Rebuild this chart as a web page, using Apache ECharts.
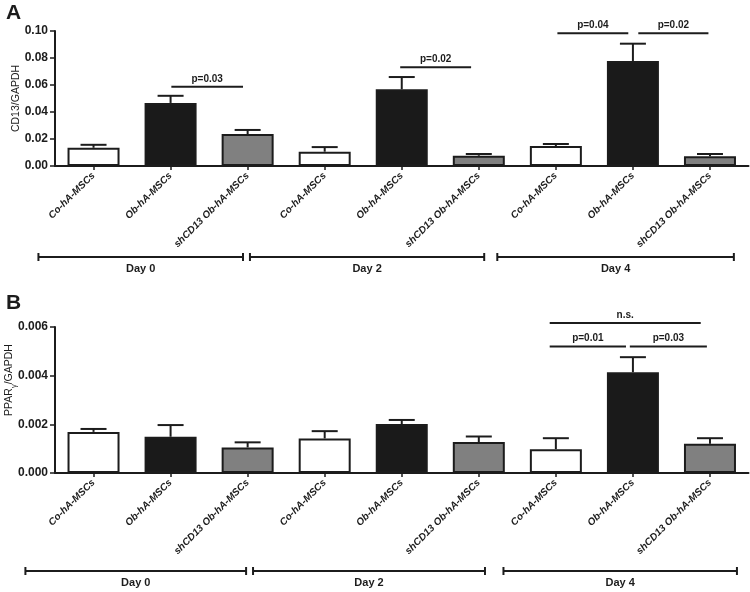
<!DOCTYPE html>
<html><head><meta charset="utf-8">
<script src="https://cdn.jsdelivr.net/npm/echarts@6/dist/echarts.min.js"></script>
<style>html,body{margin:0;padding:0;background:#fff}#c{width:750px;height:592px}</style>
</head><body><div id="c"></div>
<script>
// ---- data ----
const categories = ['Co-hA-MSCs','Ob-hA-MSCs','shCD13 Ob-hA-MSCs',
                    'Co-hA-MSCs','Ob-hA-MSCs','shCD13 Ob-hA-MSCs',
                    'Co-hA-MSCs','Ob-hA-MSCs','shCD13 Ob-hA-MSCs'];
const dayLabels = ['Day 0','Day 2','Day 4'];
// Panel A: CD13/GAPDH
const cd13Values = [0.0135,0.0467,0.0237,0.0106,0.0568,0.0076,0.0148,0.0778,0.0072];
const cd13ErrTop = [0.0157,0.0520,0.0267,0.0140,0.0659,0.0089,0.0163,0.0906,0.0089];
const cd13Sig = [[1.01,1.94,0.0587],[3.98,4.90,0.0731],[6.02,6.94,0.0983],[7.07,7.98,0.0983]];
const cd13SigText = ['p=0.03','p=0.02','p=0.04','p=0.02'];
const cd13DaySpans = [[-0.715,1.94],[2.03,5.07],[5.24,8.31]];
// Panel B: PPARγ/GAPDH
const pparValues = [0.00169,0.00149,0.00105,0.00142,0.00201,0.00127,0.00098,0.00414,0.00120];
const pparErrTop = [0.00181,0.00197,0.00126,0.00172,0.00218,0.00150,0.00143,0.00476,0.00143];
const pparSig = [[5.92,6.91,0.0052],[6.96,7.96,0.0052],[5.92,7.88,0.00616]];
const pparSigText = ['p=0.01','p=0.03','n.s.'];
const pparDaySpans = [[-0.884,1.98],[2.07,5.08],[5.32,8.35]];
// axis ticks
const cd13Axis = {min:0, max:0.10, interval:0.02, digits:2};
const pparAxis = {min:0, max:0.006, interval:0.002, digits:3};

// ---- styles ----
const FONT = '"Liberation Sans", Arial, sans-serif';
const INK = '#1c1c1c';
const fills = ['#ffffff','#1a1a1a','#808080'];

function barSeries(vals, gi){
  return {type:'bar', xAxisIndex:gi*2, yAxisIndex:gi, barWidth:52,
    data: vals.map((v,i)=>({value:v, itemStyle:{color:fills[i%3]}})),
    itemStyle:{borderColor:INK, borderWidth:2}, z:2};
}
function errSeries(vals, tops, gi){
  return {type:'custom', xAxisIndex:gi*2, yAxisIndex:gi, z:3, clip:false,
    data: vals.map((v,i)=>[i,v,tops[i]]),
    renderItem:(params, api)=>{
      const a = api.coord([api.value(0), api.value(1)]);
      const b = api.coord([api.value(0), api.value(2)]);
      const st = {stroke:INK, lineWidth:2};
      return {type:'group', children:[
        {type:'line', shape:{x1:a[0],y1:a[1],x2:b[0],y2:b[1]}, style:st},
        {type:'line', shape:{x1:b[0]-13,y1:b[1],x2:b[0]+13,y2:b[1]}, style:st}
      ]};
    }};
}
function sigSeries(spans, texts, gi){
  return {type:'custom', xAxisIndex:gi*2+1, yAxisIndex:gi, z:3, clip:false,
    data: spans.map((s,i)=>[s[0],s[1],s[2],i]),
    renderItem:(params, api)=>{
      const a = api.coord([api.value(0), api.value(2)]);
      const b = api.coord([api.value(1), api.value(2)]);
      return {type:'group', children:[
        {type:'line', shape:{x1:a[0],y1:a[1],x2:b[0],y2:b[1]}, style:{stroke:INK,lineWidth:2}},
        {type:'text', x:(a[0]+b[0])/2, y:a[1]-3, style:{text:texts[api.value(3)], fill:INK,
          font:'bold 10px '+FONT, textAlign:'center', textVerticalAlign:'bottom'}}
      ]};
    }};
}
function daySeries(spans, gi, drop){
  return {type:'custom', xAxisIndex:gi*2+1, yAxisIndex:gi, z:3, clip:false,
    data: spans.map((s,i)=>[s[0],s[1],i]),
    renderItem:(params, api)=>{
      const a = api.coord([api.value(0), 0]);
      const b = api.coord([api.value(1), 0]);
      const y = a[1] + drop;
      const st = {stroke:INK, lineWidth:2};
      return {type:'group', children:[
        {type:'line', shape:{x1:a[0],y1:y,x2:b[0],y2:y}, style:st},
        {type:'line', shape:{x1:a[0],y1:y-4,x2:a[0],y2:y+4}, style:st},
        {type:'line', shape:{x1:b[0],y1:y-4,x2:b[0],y2:y+4}, style:st},
        {type:'text', x:(a[0]+b[0])/2, y:y+12, style:{text:dayLabels[api.value(2)], fill:INK,
          font:'bold 11px '+FONT, textAlign:'center', textVerticalAlign:'middle'}}
      ]};
    }};
}
function catAxis(gi){
  return {type:'category', gridIndex:gi, data:categories,
    axisLine:{onZero:false, lineStyle:{color:INK,width:2}},
    axisTick:{show:true, alignWithLabel:true, length:4, lineStyle:{color:INK,width:1.5}},
    axisLabel:{interval:0, rotate:45, margin:8, color:INK, fontFamily:FONT,
      fontSize:10, fontWeight:'bold', fontStyle:'italic'}};
}
function hiddenAxis(gi){
  return {type:'value', gridIndex:gi, min:-0.5, max:8.5, show:false};
}
function valAxis(gi, ax, name, gap, pad){
  return {type:'value', gridIndex:gi, min:ax.min, max:ax.max, interval:ax.interval,
    name:name, nameLocation:'middle', nameGap:gap, nameMoveOverlap:false,
    nameTextStyle:{fontFamily:FONT, fontSize:10.5, color:INK, padding:pad,
      rich:{sub:{fontSize:7.5, fontFamily:FONT, color:INK, verticalAlign:'bottom', padding:[0,0,-3,0]}}},
    splitLine:{show:false},
    axisLine:{show:true, onZero:false, lineStyle:{color:INK,width:2}},
    axisTick:{show:true, length:5, lineStyle:{color:INK,width:1.5}},
    axisLabel:{margin:7, color:INK, fontFamily:FONT, fontSize:12, fontWeight:'bold',
      formatter:v=>v.toFixed(ax.digits)}};
}

const chart = echarts.init(document.getElementById('c'), null, {renderer:'canvas'});
chart.setOption({
  animation:false,
  backgroundColor:'#fff',
  title:[
    {text:'A', left:1, top:-2, textStyle:{fontFamily:FONT, fontSize:21, fontWeight:'bold', color:INK}},
    {text:'B', left:1, top:288, textStyle:{fontFamily:FONT, fontSize:21, fontWeight:'bold', color:INK}}
  ],
  grid:[
    {left:55, right:1.5, top:31, bottom:426, outerBoundsMode:'none', containLabel:false},
    {left:55, right:1.5, top:327, bottom:119, outerBoundsMode:'none', containLabel:false}
  ],
  xAxis:[catAxis(0), hiddenAxis(0), catAxis(1), hiddenAxis(1)],
  yAxis:[
    valAxis(0, cd13Axis, 'CD13/GAPDH', 33, [0,0,0,0]),
    valAxis(1, pparAxis, 'PPAR{sub|γ}/GAPDH', 40, [0,0,0,40])
  ],
  series:[
    barSeries(cd13Values,0), errSeries(cd13Values,cd13ErrTop,0),
    sigSeries(cd13Sig,cd13SigText,0), daySeries(cd13DaySpans,0,91),
    barSeries(pparValues,1), errSeries(pparValues,pparErrTop,1),
    sigSeries(pparSig,pparSigText,1), daySeries(pparDaySpans,1,98)
  ]
});
</script></body></html>
